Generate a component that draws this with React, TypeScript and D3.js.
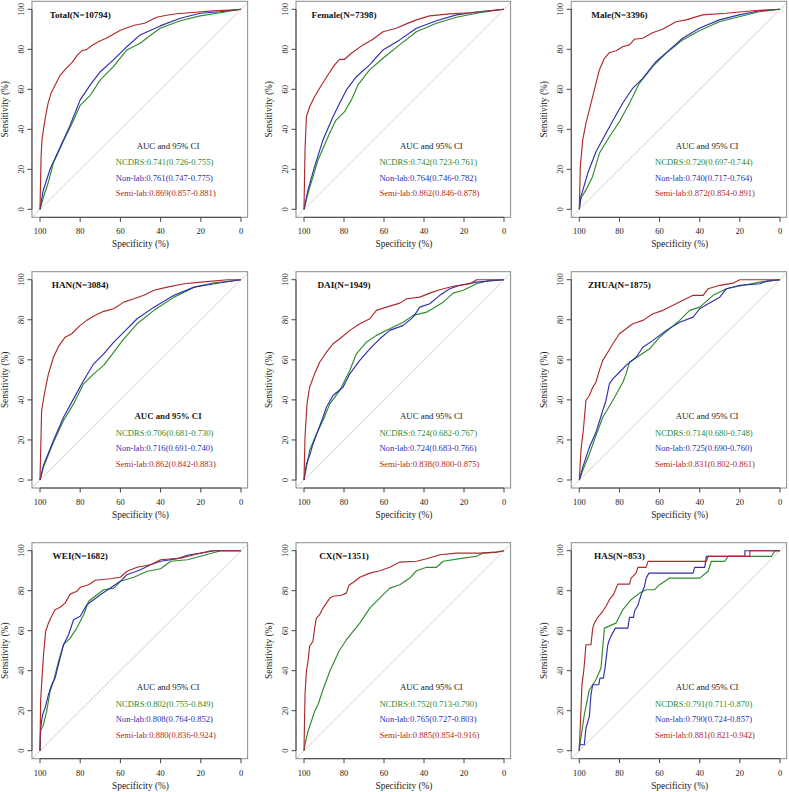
import React from "react";
import * as d3 from "d3";

type Pt = [number, number];

// ---- text data ----
const titles = [
  "Total(N=10794)", "Female(N=7398)", "Male(N=3396)",
  "HAN(N=3084)", "DAI(N=1949)", "ZHUA(N=1875)",
  "WEI(N=1682)", "CX(N=1351)", "HAS(N=853)",
];
const ncdrsLabels = [
  "NCDRS:0.741(0.726-0.755)", "NCDRS:0.742(0.723-0.761)", "NCDRS:0.720(0.697-0.744)",
  "NCDRS:0.706(0.681-0.730)", "NCDRS:0.724(0.682-0.767)", "NCDRS:0.714(0.680-0.748)",
  "NCDRS:0.802(0.755-0.849)", "NCDRS:0.752(0.713-0.790)", "NCDRS:0.791(0.711-0.870)",
];
const nonlabLabels = [
  "Non-lab:0.761(0.747-0.775)", "Non-lab:0.764(0.746-0.782)", "Non-lab:0.740(0.717-0.764)",
  "Non-lab:0.716(0.691-0.740)", "Non-lab:0.724(0.683-0.766)", "Non-lab:0.725(0.690-0.760)",
  "Non-lab:0.808(0.764-0.852)", "Non-lab:0.765(0.727-0.803)", "Non-lab:0.790(0.724-0.857)",
];
const semilabLabels = [
  "Semi-lab:0.869(0.857-0.881)", "Semi-lab:0.862(0.846-0.878)", "Semi-lab:0.872(0.854-0.891)",
  "Semi-lab:0.862(0.842-0.883)", "Semi-lab:0.838(0.800-0.875)", "Semi-lab:0.831(0.802-0.861)",
  "Semi-lab:0.880(0.836-0.924)", "Semi-lab:0.885(0.854-0.916)", "Semi-lab:0.881(0.821-0.942)",
];
const headerBold = [false, false, false, true, false, false, false, false, false];
const xTicks = [100, 80, 60, 40, 20, 0];
const yTicks = [0, 20, 40, 60, 80, 100];

// ---- curve data: [specificity %, sensitivity %] ----
const totalNcdrs: Pt[] = [[100,0],[98.3,6],[96,13],[93.4,23],[88.4,34],[84,43],[80,52],[75,57],[70,64.7],[63.5,71.3],[56.8,79.7],[50.2,83],[45,87],[40.2,90.5],[30.2,94.3],[20.3,96.7],[10.3,98.3],[0,100]];
const totalNonlab: Pt[] = [[100,0],[98.5,9],[95,20],[90,31],[85,42],[80,54.7],[75,62.2],[70,68.8],[63.5,74.7],[56.8,81.3],[50.2,87.2],[40.2,91.7],[30.2,95.5],[20.3,98],[10.3,98.8],[0,100]];
const totalSemilab: Pt[] = [[100,0],[99.5,25],[99,35],[97.5,45],[96,53],[94.5,58],[93,61],[90,67],[87,70.5],[84,73.5],[81.5,77],[79,79.5],[77,79.7],[74,82],[70,84.3],[67,85.5],[63.5,87.5],[60,89.5],[56,91],[53,92],[48,93],[45,94.5],[42,96],[37,97],[32,97.8],[24,98.4],[14,99.2],[6,99.6],[0,100]];

const femaleNcdrs: Pt[] = [[100,0],[98,8],[93,24.7],[87.2,38],[84.2,44.3],[79.7,48.8],[76.3,54.7],[73,62.2],[67.2,69.7],[60.5,75.5],[52.2,82.2],[43.8,88.8],[33.8,93],[23.8,96],[12.2,98.3],[0,100]];
const femaleNonlab: Pt[] = [[100,0],[98,9.7],[94.7,21.3],[90.5,34.7],[85.5,46.3],[82.2,53],[78.8,59.7],[73.8,66.3],[67.2,72.2],[60.5,79.7],[52.2,84.7],[43.8,90.5],[33.8,94.3],[23.8,97.2],[12.2,98.8],[0,100]];
const femaleSemilab: Pt[] = [[100,0],[99.5,29.7],[98.8,46.3],[97.2,51.3],[94.7,56.3],[92.2,60.5],[88.8,66],[84.7,72.2],[82.2,75],[79.7,75],[76.3,78],[70.5,82.2],[65.5,85],[60.5,88.8],[53.8,90.5],[48.8,92.7],[43.8,94.7],[37.2,96.7],[27.2,97.7],[17.2,98.3],[0,100]];

const maleNcdrs: Pt[] = [[100,0],[99.2,5.5],[96.7,9.7],[93.4,16.3],[90,28],[85,36.3],[80,43.8],[75,53],[70.1,63],[63.5,71.3],[56.8,78],[48.5,84.7],[40.2,89.3],[30.2,93.8],[20.3,96.3],[10.3,98.8],[0,100]];
const maleNonlab: Pt[] = [[100,0],[99.2,6.3],[95.8,18],[91.7,28.8],[86.7,38],[82.6,45.5],[78.4,53],[73.4,60.5],[68.4,65.5],[61.8,73.8],[55.1,79.7],[48.5,85.5],[40.2,90.5],[30.2,94.7],[20.3,97.2],[10.3,99.3],[0,100]];
const maleSemilab: Pt[] = [[100,0],[99.5,21.3],[98.3,34.7],[96.7,43],[95,49.7],[92.5,59.7],[90,69.7],[87.5,75.5],[85,78.3],[81.7,79.3],[78.4,81.3],[75,82.2],[72.6,85],[68.4,85.5],[63.5,88.3],[58.5,90],[51.8,93.8],[46.8,94.7],[38.5,97.2],[26.9,98],[13.6,99.3],[0,100]];

const hanNcdrs: Pt[] = [[100,0],[98.3,6.3],[93.3,18.8],[88.3,29.7],[83.3,38],[78.3,48],[73.3,53],[68.3,57.2],[63.3,63.8],[58.3,70.5],[51.7,78],[43.3,84.7],[33.3,91.3],[23.3,96.3],[13.3,98.5],[0,100]];
const hanNonlab: Pt[] = [[100,0],[98.3,7.2],[93.3,19.7],[88.3,31.3],[83.3,40.5],[78.3,49.7],[73.3,58],[68.3,63],[63.3,68.8],[58.3,73.8],[51.7,80.5],[43.3,86.3],[33.3,92.2],[23.3,96.3],[13.3,98],[0,100]];
const hanSemilab: Pt[] = [[100,0],[99.2,34.7],[97.5,44.7],[95.8,53],[93.3,61.3],[90.8,66.7],[87.5,71.3],[84.2,73],[80,77.2],[76.7,79.7],[72.5,82.2],[68.3,84.2],[63.3,85.5],[58.3,88.8],[53.3,90.5],[48.3,92.2],[43.3,94.7],[36.7,96.3],[28.3,98],[20,98.8],[6.7,100],[0,100]];

const daiNcdrs: Pt[] = [[100,0],[98.8,6.3],[97.2,14.7],[93.8,23],[90.5,29.7],[87.1,38],[82.1,44.7],[77.1,54.7],[73.8,63],[68.8,68.8],[63.8,72.2],[57.1,75.5],[50.4,78.8],[45.4,82.2],[38.7,83.8],[30.4,88.8],[25.4,93.3],[20.4,94.7],[13.7,98],[7,99.7],[0,100]];
const daiNonlab: Pt[] = [[100,0],[98.8,8],[97.2,12.2],[95.5,18],[93,24.7],[90.5,31.3],[88.8,36.3],[85.5,42.2],[80.5,46.3],[77.1,53],[72.1,59.7],[67.1,65.5],[62.1,70.5],[57.1,74.7],[50.4,77.2],[45.4,81.3],[42.1,86.3],[37.1,88],[32.1,92.2],[27.1,95.5],[22,97.2],[13.7,98.8],[0,100]];
const daiSemilab: Pt[] = [[100,0],[99.5,21.3],[98.5,38],[97.2,46.3],[94.7,53],[92.2,58.8],[88.8,63.8],[85.5,68],[82.1,70.5],[77.1,74.7],[72.1,78],[67.1,80.5],[63.8,84.7],[58.8,86.3],[52.1,88.3],[48.7,90.5],[42.1,91.3],[37.1,93.3],[32.1,95],[25.4,96.7],[17,98],[13.7,100],[0,100]];

const zhuaNcdrs: Pt[] = [[100,0],[98.3,4.7],[95,13],[91.7,22.2],[88.3,31.3],[83.3,39.7],[78.3,48.8],[76.7,53],[75,58.8],[70,62.2],[65,65.5],[60,71.3],[55,75.5],[50,79.7],[45,84.7],[40,86.3],[33.3,92.2],[26.7,95.5],[18.3,97.2],[10,98.8],[0,100]];
const zhuaNonlab: Pt[] = [[100,0],[98.3,6.3],[95,16.3],[91.7,23.8],[88.3,34.7],[86.7,39.7],[85,48],[83.3,50.5],[80,53.8],[76.7,57.2],[71.7,61.3],[68.3,66.3],[63.3,69.7],[56.7,74.7],[50,78.8],[43.3,81.3],[40,85.5],[35.8,88],[30,91.3],[26.7,95.5],[20,97.2],[10,98],[6.7,99.3],[0,100]];
const zhuaSemilab: Pt[] = [[100,0],[99.2,14.7],[98,24.7],[96.7,39.7],[95,42.2],[93.3,46.3],[91.7,48.8],[90,54.7],[88.3,59.7],[85.8,63.8],[83.3,68],[80,73],[76.7,75.5],[73.3,78],[68.3,79.7],[63.3,83],[58.3,84.7],[53.3,87.2],[48.3,89.7],[43.3,92.2],[38.3,92.2],[35.8,95.5],[30,97.2],[23.3,98.3],[20,100],[0,100]];

const weiNcdrs: Pt[] = [[100,0],[99.7,10],[98.3,13],[96.7,19.7],[95,29.7],[93.3,34.7],[90.8,44.7],[88.3,53],[85,56.3],[81.7,61.3],[78.3,68],[75.8,74.7],[71.7,78],[68.3,80.5],[63.3,81.3],[60,84.7],[53.3,86.7],[46.7,89.7],[40,91],[35,94.7],[26.7,95.5],[18.3,97.7],[10,100],[0,100]];
const weiNonlab: Pt[] = [[100,0],[99.7,11.3],[98.7,18],[97.5,21.3],[95.8,28],[94.2,33],[92.5,36.3],[90,46.3],[88.3,53],[85.8,58],[83.3,65.5],[80,67.2],[76.7,73],[73.3,75.5],[70,78],[65,81.3],[60,84.7],[56.7,88],[50,90.5],[45,93],[40,94.7],[31.7,96],[26.7,97.7],[20,98.8],[13.3,100],[0,100]];
const weiSemilab: Pt[] = [[100,0],[99.7,24.7],[99,36.3],[98.3,47.2],[97.2,59.7],[95.8,63.8],[94.2,67.2],[92.5,70.5],[90,71.7],[87.5,73.8],[85,78.3],[81.7,79.7],[80,81.7],[75.8,83],[72.5,85.2],[65,86],[60,86.7],[56.7,89.7],[51.7,91.7],[45,93],[40,95.5],[30,96.3],[23.3,98],[15,100],[0,100]];

const cxNcdrs: Pt[] = [[100,0],[99.2,4.7],[98,9.7],[96.3,14.7],[94.7,19.7],[93,23],[90.5,30.5],[87.1,39.7],[82.5,49.7],[78.8,55.5],[72.1,63.8],[67.1,71.3],[60.4,78],[57.1,81.3],[52.1,83],[47.1,86.3],[43.7,90],[38.7,91.7],[33.7,91.7],[30.4,94.7],[20.4,96.3],[13.7,97.2],[10.4,98.8],[3.7,99.3],[0,100]];
const cxNonlab: Pt[] = [];
const cxSemilab: Pt[] = [[100,0],[99.5,28],[98.8,39.7],[98,44.7],[97.2,52.2],[95.5,54.7],[94.7,61.3],[93.8,66.3],[92.2,68],[90.5,71.3],[88.8,73.8],[87.1,76.3],[85.5,77.2],[81.3,77.7],[78.8,78.8],[77.5,82.7],[74.6,84.7],[72.1,86.7],[67.1,88.8],[62.1,90],[57.1,91.7],[52.1,94.3],[43.7,94.7],[38.7,96],[32,98],[23.7,98.8],[12,98.8],[3.7,99.3],[0,100]];

const hasNcdrs: Pt[] = [[100,0],[99.7,3],[97.5,18],[95,30.5],[91.7,35.5],[89.2,41.3],[87.5,61.3],[81.7,63.8],[78.3,70.5],[74.2,75.5],[70,78.8],[66.7,80.5],[62.5,80.5],[60,83],[55,86.3],[40,86.3],[35.8,89.7],[34.2,94.7],[27.5,94.7],[25.8,97.2],[4.2,97.2],[2.5,100],[0,100]];
const hasNonlab: Pt[] = [[100,0],[100,3],[97.5,3],[96.7,11.3],[95,17],[94.2,28],[93.3,33],[90.3,33],[89.7,36.3],[88,36.3],[87.2,41.3],[85.8,53],[85,55.5],[83.7,58.3],[82,61.3],[75.8,61.3],[75,66.7],[73,66.7],[72.5,69.7],[70.8,72.7],[69.2,78],[67.5,82.2],[66.7,86.3],[65.3,88.8],[43.3,88.8],[42.5,91.7],[37.5,91.7],[36.7,97.2],[17.5,97.2],[17.5,100],[0,100]];
const hasSemilab: Pt[] = [[100,0],[99.7,8],[99.2,19.7],[98.7,33],[98,38],[97.5,43],[96.7,53],[94.2,53],[93.3,61.3],[92.5,63.8],[90.8,66.7],[88.3,69.7],[86.7,72.2],[85,75.5],[83,78],[80.8,83.3],[75,83.3],[74.2,86.3],[71.7,88.8],[70.8,91.7],[66.7,91.7],[65.8,94.7],[36.7,94.7],[35.8,97.2],[15,97.2],[15,100],[0,100]];

const ncdrsCurves = [totalNcdrs, femaleNcdrs, maleNcdrs, hanNcdrs, daiNcdrs, zhuaNcdrs, weiNcdrs, cxNcdrs, hasNcdrs];
const nonlabCurves = [totalNonlab, femaleNonlab, maleNonlab, hanNonlab, daiNonlab, zhuaNonlab, weiNonlab, cxNonlab, hasNonlab];
const semilabCurves = [totalSemilab, femaleSemilab, maleSemilab, hanSemilab, daiSemilab, zhuaSemilab, weiSemilab, cxSemilab, hasSemilab];

// ---- layout ----
const colX100 = [40, 304, 579.3];
const colX0 = [241, 504, 780];
const rowY100 = [9.3, 279.7, 550.7];
const rowY0 = [209.3, 480, 750.7];

const GREEN = "#2f8a2f";
const BLUE = "#2f2fae";
const RED = "#ad2a2a";
const FONT = "'Liberation Serif', 'Times New Roman', serif";

function Panel({ i }: { i: number }) {
  const col = i % 3;
  const row = Math.floor(i / 3);
  const x = d3.scaleLinear().domain([100, 0]).range([colX100[col], colX0[col]]);
  const y = d3.scaleLinear().domain([0, 100]).range([rowY0[row], rowY100[row]]);
  const line = d3.line<Pt>().x((d) => x(d[0])).y((d) => y(d[1]));
  const bl = x(104), br = x(-3.3), bt = y(104), bb = y(-4);
  const series: [Pt[], string][] = [
    [ncdrsCurves[i], GREEN],
    [nonlabCurves[i], BLUE],
    [semilabCurves[i], RED],
  ];
  return (
    <g fontFamily={FONT}>
      <line x1={bl} y1={y(-4)} x2={br} y2={y(103.3)} stroke="#d2d2d2" strokeWidth={1} />
      {series.map(([pts, c], k) =>
        pts.length ? (
          <path key={k} d={line(pts) || ""} fill="none" stroke={c} strokeWidth={1.15} strokeLinejoin="round" />
        ) : null
      )}
      <rect x={bl} y={bt} width={br - bl} height={bb - bt} fill="none" stroke="#8a8a8a" strokeWidth={1} />
      {xTicks.map((t) => (
        <g key={"x" + t}>
          <line x1={x(t)} x2={x(t)} y1={bb} y2={bb + 4.5} stroke="#444" />
          <text x={x(t)} y={rowY0[row] + 22} textAnchor="middle" dominantBaseline="central" fontSize={8.5} fill="#222">
            {t}
          </text>
        </g>
      ))}
      <line x1={x(100)} x2={x(0)} y1={bb} y2={bb} stroke="#444" />
      <text x={(x(100) + x(0)) / 2} y={rowY0[row] + 35} textAnchor="middle" dominantBaseline="central" fontSize={9.4} fill="#222">
        Specificity (%)
      </text>
      {yTicks.map((t) => (
        <g key={"y" + t}>
          <line x1={bl - 4.5} x2={bl} y1={y(t)} y2={y(t)} stroke="#444" />
          <text
            transform={`translate(${colX100[col] - 19},${y(t)}) rotate(-90)`}
            textAnchor="middle"
            dominantBaseline="central"
            fontSize={8.5}
            fill="#222"
          >
            {t}
          </text>
        </g>
      ))}
      <line x1={bl} x2={bl} y1={y(0)} y2={y(100)} stroke="#444" />
      <text
        transform={`translate(${colX100[col] - 35},${(y(0) + y(100)) / 2}) rotate(-90)`}
        textAnchor="middle"
        dominantBaseline="central"
        fontSize={9.4}
        fill="#222"
      >
        Sensitivity (%)
      </text>
      <text x={x(80)} y={y(97.3)} textAnchor="middle" dominantBaseline="central" fontSize={9.2} fontWeight="bold" fill="#111">
        {titles[i]}
      </text>
      <text x={x(36.3)} y={y(31.8)} textAnchor="middle" dominantBaseline="central" fontSize={8.8} fontWeight={headerBold[i] ? "bold" : "normal"} fill="#222">
        AUC and 95% CI
      </text>
      <text x={x(62.3)} y={y(23.5)} dominantBaseline="central" fontSize={8.6} fill={GREEN}>
        {ncdrsLabels[i]}
      </text>
      <text x={x(62.3)} y={y(15.8)} dominantBaseline="central" fontSize={8.6} fill={BLUE}>
        {nonlabLabels[i]}
      </text>
      <text x={x(62.3)} y={y(8)} dominantBaseline="central" fontSize={8.6} fill={RED}>
        {semilabLabels[i]}
      </text>
    </g>
  );
}

export default function App() {
  return (
    <svg width={789} height={792} style={{ position: "absolute", left: 0, top: 0, background: "#fff" }}>
      <rect width={789} height={792} fill="#fff" />
      {titles.map((_, i) => (
        <Panel key={i} i={i} />
      ))}
    </svg>
  );
}
